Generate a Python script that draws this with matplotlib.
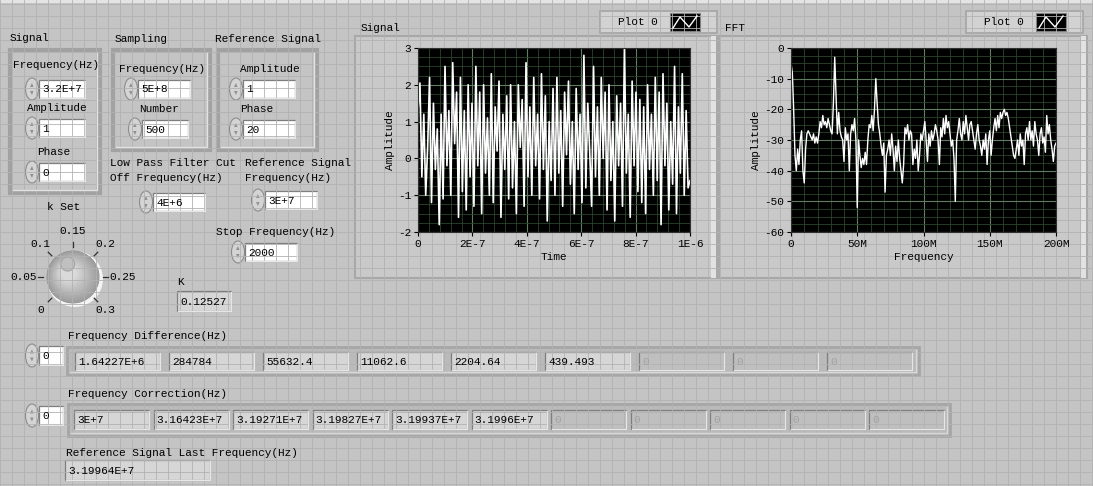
import numpy as np
import matplotlib
matplotlib.use('Agg')
import matplotlib.pyplot as plt
from matplotlib.patches import Rectangle, Circle, Ellipse, Polygon
from matplotlib.ticker import MultipleLocator

W, H = 1093, 486
MONO = 'Liberation Mono'

# ---- front panel values ----
sig_freq, sig_amp, sig_phase = '3.2E+7', '1', '0'
samp_freq, samp_number = '5E+8', '500'
ref_amp, ref_phase = '1', '20'
lpf_cut = '4E+6'
ref_freq = '3E+7'
stop_freq = '2000'
k_value = 0.12527
k_text = '0.12527'
knob_values = [0, 0.05, 0.1, 0.15, 0.2, 0.25, 0.3]
knob_labels = ['0', '0.05', '0.1', '0.15', '0.2', '0.25', '0.3']

freq_diff = ['1.64227E+6', '284784', '55632.4', '11062.6', '2204.64', '439.493', '0', '0', '0']
freq_diff_used = 6
freq_corr = ['3E+7', '3.16423E+7', '3.19271E+7', '3.19827E+7', '3.19937E+7', '3.1996E+7',
             '0', '0', '0', '0', '0']
freq_corr_used = 6
last_freq = '3.19964E+7'

# ---- graph data ----
fs = 5e8
n_samples = 500
signal = [1.3, 2.05, -0.5, 1.2, -1.0, 0.3, 2.2, -1.2, 1.5, -0.3, 0.8, -1.8, 1.2, -1.1, 2.5, -0.2,
          1.3, -1.0, 2.6, 0.4, 1.8, -1.6, 2.2, -0.9, 1.3, -1.4, 2.0, -0.5, 1.5, -1.3, 2.5, -0.2,
          1.8, -1.5, 2.0, -0.4, 1.1, -1.0, 2.3, -1.2, 1.4, 0.2, 2.1, -1.6, 1.2, -0.3, 1.7, -1.1,
          2.0, -0.8, 1.0, -1.5, 2.0, 0.3, 1.6, -1.3, 2.6, -0.5, 1.4, -1.0, 2.2, -0.2,
          1.2, -1.1, 2.3, -0.3, 1.7, -1.7, 1.0, -0.6, 1.9, -1.0, 2.2, -0.4, 1.3, -1.3, 1.8, 0.1,
          2.1, -0.7, 1.0, -1.5, 1.9, -0.3, 1.2, -1.2, 2.8, -0.8, 1.5, 0.2,
          -1.3, 2.5, -0.5, 1.4, -1.0, 2.2, 0.0, 1.8, -1.4, 2.0, -0.6, 1.0, -1.7, 1.7, -0.2, 1.5,
          -1.3, 3.0, -0.4, 1.2, -1.6, 2.1, -0.2, 1.8, -0.9, 1.6, -1.2,
          1.4, -1.5, 2.0, -0.3, 1.2, -1.0, 2.2, -0.6, 1.8, -1.8, 2.3, -0.2, 1.5, -1.4, 1.0, -0.7,
          2.5, -1.5, 1.4, -0.4, 2.3, -1.0, 1.3, -0.8, -0.6]
fft_db = [-5, -8, -20, -35, -40, -33, -38, -30, -27, -40,
          -44, -33, -28, -27, -28, -29, -30, -28, -31, -29,
          -31, -28, -24, -26, -22, -25, -24, -26, -23, -25,
          -27, -28, -18, -3, -15, -28, -21, -27, -29, -30,
          -37, -26, -30, -28, -40, -28, -25, -27, -23, -30,
          -52, -30, -35, -39, -36, -38, -34, -38, -30, -25,
          -26, -22, -27, -20, -10, -18, -25, -28, -32, -35,
          -31, -47, -35, -33, -30, -35, -28, -33, -40, -32,
          -37, -30, -36, -40, -44, -38, -26, -28, -25, -30,
          -27, -28, -38, -33, -36, -30, -40, -35, -28, -30,
          -27, -24, -30, -37, -28, -32, -27, -30, -28, -25,
          -27, -30, -38, -26, -29, -23, -28, -22, -26, -24,
          -28, -32, -30, -36, -50, -30, -27, -23, -28, -30,
          -24, -28, -22, -26, -30, -25, -24, -27, -30, -33,
          -28, -25, -30, -32, -35, -30, -33, -28, -38, -30,
          -27, -35, -30, -26, -23, -27, -22, -26, -21, -23,
          -21, -20, -22, -21, -23, -26, -29, -32, -35, -36,
          -33, -30, -35, -28, -32, -30, -38, -28, -26, -30,
          -24, -30, -27, -32, -24, -28, -30, -35, -28, -26,
          -31, -29, -34, -22, -28, -25, -30, -33, -37, -32,
          -31]
sig_xticks = [0, 2e-7, 4e-7, 6e-7, 8e-7, 1e-6]
sig_xlabels = ['0', '2E-7', '4E-7', '6E-7', '8E-7', '1E-6']
sig_yticks = [-2, -1, 0, 1, 2, 3]
fft_xticks = [0, 50e6, 100e6, 150e6, 200e6]
fft_xlabels = ['0', '50M', '100M', '150M', '200M']
fft_yticks = [-60, -50, -40, -30, -20, -10, 0]

BG = '#c4c4c4'


def txt(ax, x, y, s, ha='left', color='black', size=8):
    ax.text(x, y, s, ha=ha, va='center', fontsize=size, family=MONO, color=color)


def frame(ax, x0, y0, x1, y1, face=BG, dark='#a2a2a2', light='#e2e2e2', lw=3):
    ax.add_patch(Rectangle((x0, y0), x1 - x0, y1 - y0, facecolor=face, edgecolor=dark, lw=lw))
    ax.plot([x0 + 3, x1 - 3, x1 - 3], [y1 - 3, y1 - 3, y0 + 3], color=light, lw=1)


def spinner(ax, cx, cy, h):
    ax.add_patch(Ellipse((cx, cy), 13, h + 4, facecolor='#d4d4d4', edgecolor='#8c8c8c', lw=0.8))
    ax.add_patch(Polygon([[cx - 2, cy - 2], [cx, cy - 6], [cx + 1.5, cy - 2]], closed=True,
                         facecolor='#909090', edgecolor='none'))
    ax.add_patch(Polygon([[cx - 2, cy + 2], [cx, cy + 6], [cx + 1.5, cy + 2]], closed=True,
                         facecolor='#909090', edgecolor='none'))


def ctrl(ax, x, y, w, h, s, spin=True, face='white', color='black'):
    if spin:
        spinner(ax, x - 7, y + h / 2, h)
    ax.add_patch(Rectangle((x, y), w, h, facecolor=face, edgecolor='#7e7e7e', lw=0.9))
    ax.plot([x + 1, x + w, x + w], [y + h, y + h, y + 1], color='#e6e6e6', lw=1)
    txt(ax, x + 3, y + h / 2 + 0.5, s, color=color)


fig = plt.figure(figsize=(W / 100, H / 100), dpi=100)
bg = fig.add_axes([0, 0, 1, 1], zorder=0)
bg.set_xlim(0, W)
bg.set_ylim(H, 0)
bg.axis('off')
bg.add_patch(Rectangle((0, 0), W, H, facecolor=BG, edgecolor='none'))
for gx in np.arange(0, W, 12):
    bg.axvline(gx, color='#b2b2b2', lw=0.6)
for gy in np.arange(4, H, 12):
    bg.axhline(gy, color='#b2b2b2', lw=0.6)
bg.add_patch(Rectangle((0, 0), W, 3, facecolor='#e4e4e4', edgecolor='none'))

# ---- clusters ----
txt(bg, 10, 38, 'Signal')
frame(bg, 10, 50, 100, 193)
txt(bg, 13, 65, 'Frequency(Hz)')
ctrl(bg, 39, 80, 46, 18, sig_freq)
txt(bg, 27, 108, 'Amplitude')
ctrl(bg, 39, 119, 46, 18, sig_amp)
txt(bg, 37, 152, 'Phase')
ctrl(bg, 39, 163, 46, 18, sig_phase)

txt(bg, 115, 39, 'Sampling')
frame(bg, 113, 50, 210, 150)
txt(bg, 119, 69, 'Frequency(Hz)')
ctrl(bg, 138, 80, 52, 18, samp_freq)
txt(bg, 139, 109, 'Number')
ctrl(bg, 142, 120, 46, 18, samp_number)

txt(bg, 215, 39, 'Reference Signal')
frame(bg, 218, 50, 317, 150)
txt(bg, 240, 69, 'Amplitude')
ctrl(bg, 243, 80, 52, 18, ref_amp)
txt(bg, 240, 109, 'Phase')
ctrl(bg, 243, 120, 52, 18, ref_phase)

txt(bg, 110, 163, 'Low Pass Filter Cut')
txt(bg, 110, 178, 'Off Frequency(Hz)')
ctrl(bg, 153, 193, 52, 18, lpf_cut)
txt(bg, 245, 163, 'Reference Signal')
txt(bg, 245, 178, 'Frequency(Hz)')
ctrl(bg, 265, 191, 52, 18, ref_freq)
txt(bg, 216, 232, 'Stop Frequency(Hz)')
ctrl(bg, 245, 243, 52, 18, stop_freq)

txt(bg, 177, 282, 'K')
ctrl(bg, 177, 291, 54, 20, k_text, spin=False, face='#d6d6d6')

# ---- knob ----
txt(bg, 47, 207, 'k Set')
cx, cy, R = 73, 277, 26
kmax = knob_values[-1]
for v, lab in zip(knob_values, knob_labels):
    a = np.deg2rad(225 - v / kmax * 270)
    bg.plot([cx + 30 * np.cos(a), cx + 35 * np.cos(a)],
            [cy - 30 * np.sin(a), cy - 35 * np.sin(a)], color='#303030', lw=0.9)
    ca = np.cos(a)
    if abs(ca) > 0.9:
        ha = 'right' if ca < 0 else 'left'
        txt(bg, cx + 36 * ca, cy - 36 * np.sin(a), lab, ha=ha)
    else:
        txt(bg, cx + 46 * ca, cy - 46 * np.sin(a), lab, ha='center')
bg.add_patch(Circle((cx + 2, cy + 2), R + 2, facecolor='#f4f4f4', edgecolor='none'))
bg.add_patch(Circle((cx, cy), R, facecolor='#9a9a9a', edgecolor='#8a8a8a', lw=0.6))
for i in range(10):
    f = i / 10
    g = 0.62 + 0.26 * f
    bg.add_patch(Circle((cx - 5 * f, cy - 5 * f), R * (1 - 0.75 * f),
                        facecolor=(g, g, g), edgecolor='none'))
ak = np.deg2rad(225 - k_value / kmax * 270)
bg.add_patch(Circle((cx + 14 * np.cos(ak), cy - 14 * np.sin(ak)), 7,
                    facecolor='#c0c0c0', edgecolor='#a4a4a4', lw=0.8))

# ---- arrays ----
txt(bg, 68, 336, 'Frequency Difference(Hz)')
ctrl(bg, 39, 346, 24, 19, '0')
frame(bg, 67, 347, 919, 375, face='#bababa', dark='#a6a6a6', light='#d8d8d8', lw=2)
for i, s in enumerate(freq_diff):
    used = i < freq_diff_used
    ctrl(bg, 75 + 94 * i, 352, 85, 18, s, spin=False,
         face='#d6d6d6' if used else '#bfbfbf', color='black' if used else '#a2a2a2')

txt(bg, 68, 394, 'Frequency Correction(Hz)')
ctrl(bg, 39, 406, 24, 19, '0')
frame(bg, 68, 404, 950, 436, face='#bababa', dark='#a6a6a6', light='#d8d8d8', lw=2)
for i, s in enumerate(freq_corr):
    used = i < freq_corr_used
    ctrl(bg, 74 + 79.5 * i, 410, 75, 19, s, spin=False,
         face='#d6d6d6' if used else '#bfbfbf', color='black' if used else '#a2a2a2')

txt(bg, 66, 453, 'Reference Signal Last Frequency(Hz)')
ctrl(bg, 65, 460, 145, 20, last_freq, spin=False, face='#d6d6d6')

# ---- graph frames and legends ----
for (x0, x1, title, lx0, lx1) in [(355, 717, 'Signal', 600, 717), (719, 1087, 'FFT', 966, 1083)]:
    bg.add_patch(Rectangle((x0, 36), x1 - x0, 242, facecolor='#c9c9c9', edgecolor='#a8a8a8', lw=1.5))
    bg.add_patch(Rectangle((x1 - 6, 36), 5, 242, facecolor='#e2e2e2', edgecolor='none'))
    txt(bg, x0 + 6, 28, title)
    bg.add_patch(Rectangle((lx0, 11), lx1 - lx0, 22, facecolor='#d2d2d2', edgecolor='#a4a4a4', lw=1.2))
    txt(bg, lx0 + 18, 22, 'Plot 0')
    sx0, sx1 = lx1 - 47, lx1 - 17
    bg.add_patch(Rectangle((sx0, 13), sx1 - sx0, 18, facecolor='black', edgecolor='#808080', lw=0.8))
    bg.plot([sx0 + 3, sx0 + 10, sx0 + 19, sx1 - 3], [28, 17, 27, 16], color='white', lw=1)


def scope(rect):
    ax = fig.add_axes(rect, zorder=2)
    ax.set_facecolor('black')
    ax.grid(True, which='major', color='#5f7d5f', lw=0.8)
    ax.grid(True, which='minor', color='#2c452c', lw=0.6)
    ax.set_axisbelow(True)
    for sp in ax.spines.values():
        sp.set_color('#303030')
    ax.tick_params(which='major', direction='out', length=3, labelsize=8, pad=2, color='black')
    ax.tick_params(which='minor', length=0)
    return ax


def px_rect(x0, y0, x1, y1):
    return [x0 / W, 1 - y1 / H, (x1 - x0) / W, (y1 - y0) / H]


ax1 = scope(px_rect(418, 48, 690, 232))
t = np.linspace(0, sig_xticks[-1], len(signal))
ax1.plot(t, signal, color='white', lw=1.2)
ax1.set_xlim(0, sig_xticks[-1])
ax1.set_ylim(sig_yticks[0], sig_yticks[-1])
ax1.set_xticks(sig_xticks)
ax1.set_xticklabels(sig_xlabels, family=MONO)
ax1.set_yticks(sig_yticks)
ax1.set_yticklabels([str(v) for v in sig_yticks], family=MONO)
ax1.xaxis.set_minor_locator(MultipleLocator(4e-8))
ax1.yaxis.set_minor_locator(MultipleLocator(0.25))
ax1.set_xlabel('Time', family=MONO, fontsize=8, labelpad=2)
ax1.set_ylabel('Amplitude', family=MONO, fontsize=8, labelpad=2)

ax2 = scope(px_rect(791, 48, 1056, 232))
f = np.arange(len(fft_db)) * fs / n_samples
ax2.plot(f, fft_db, color='white', lw=1.0)
ax2.set_xlim(0, fft_xticks[-1])
ax2.set_ylim(fft_yticks[0], fft_yticks[-1])
ax2.set_xticks(fft_xticks)
ax2.set_xticklabels(fft_xlabels, family=MONO)
ax2.set_yticks(fft_yticks)
ax2.set_yticklabels([str(v) for v in fft_yticks], family=MONO)
ax2.xaxis.set_minor_locator(MultipleLocator(10e6))
ax2.yaxis.set_minor_locator(MultipleLocator(2.5))
ax2.set_xlabel('Frequency', family=MONO, fontsize=8, labelpad=2)
ax2.set_ylabel('Amplitude', family=MONO, fontsize=8, labelpad=2)

fig.savefig('out.png', dpi=100)
